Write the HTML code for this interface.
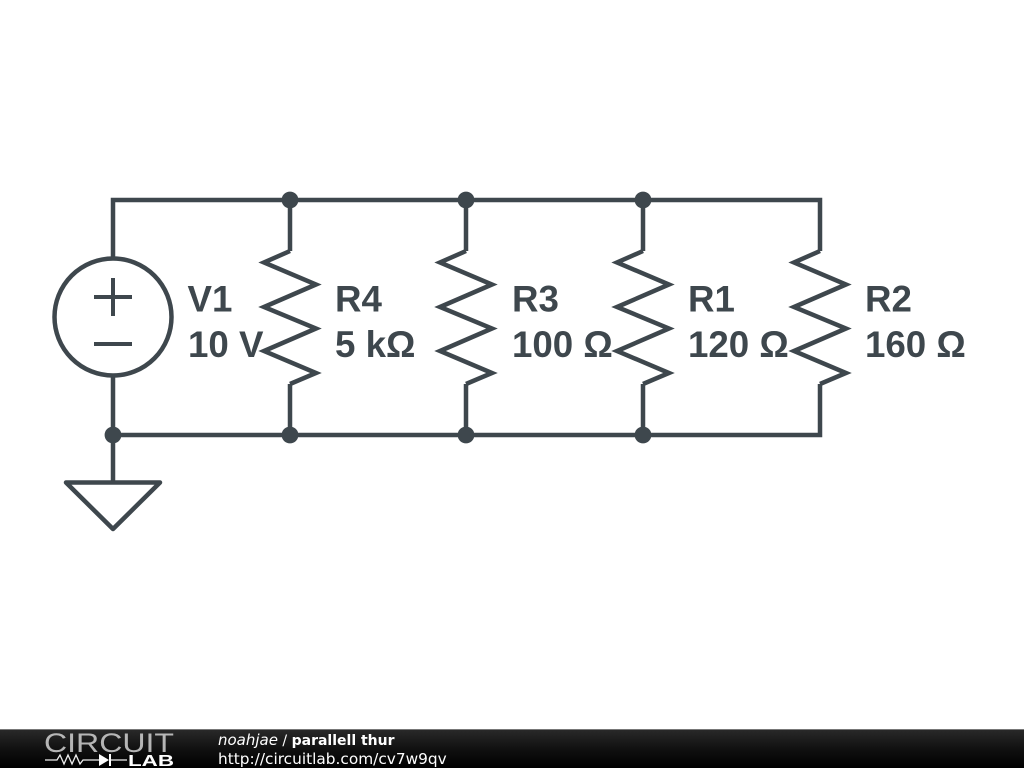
<!DOCTYPE html>
<html><head><meta charset="utf-8"><style>
html,body{margin:0;padding:0;background:#fff;width:1024px;height:768px;overflow:hidden}
svg{display:block}
</style></head><body>
<svg width="1024" height="768" viewBox="0 0 1024 768" xmlns="http://www.w3.org/2000/svg">
<defs>
<linearGradient id="bar" x1="0" y1="0" x2="0" y2="1"><stop offset="0" stop-color="#2a2a2a"/><stop offset="0.5" stop-color="#111"/><stop offset="1" stop-color="#000"/></linearGradient>
<path id="res" d="M0 251L-26 262.500 26 284.500-26 307 26 328.500-26 351 26 373 0 384"/>
</defs>
<g fill="none" stroke="#3e474d" stroke-width="4.500" stroke-linejoin="miter">
<path d="M113 257V200H820V251M113 377V435H820V384M113 435V482M290 200V251M290 384V435M466 200V251M466 384V435M643 200V251M643 384V435"/>
<use href="#res" x="290"/><use href="#res" x="466"/><use href="#res" x="643"/><use href="#res" x="820"/>
<circle cx="113" cy="317" r="58.500"/>
<path d="M94 297H132M113 278V316M94 344H132" stroke-width="4"/>
<path d="M66 482.500H160L113 529Z" stroke-linejoin="round"/>
</g>
<g fill="#3e474d">
<circle cx="290" cy="200" r="8.400"/><circle cx="466" cy="200" r="8.400"/><circle cx="643" cy="200" r="8.400"/>
<circle cx="113" cy="435" r="8.400"/><circle cx="290" cy="435" r="8.400"/><circle cx="466" cy="435" r="8.400"/><circle cx="643" cy="435" r="8.400"/>
</g>
<g fill="#3e474d" font-family="'Liberation Sans',sans-serif" font-weight="bold" font-size="36.700">
<text x="187.500" y="311.500">V1</text><text x="188" y="357">10 V</text>
<text x="335" y="311.500">R4</text><text x="335" y="357">5 kΩ</text>
<text x="512" y="311.500">R3</text><text x="512" y="357">100 Ω</text>
<text x="688" y="311.500">R1</text><text x="688" y="357">120 Ω</text>
<text x="865" y="311.500">R2</text><text x="865" y="357">160 Ω</text>
</g>
<rect x="0" y="729" width="1024" height="39" fill="url(#bar)"/>
<rect x="0" y="729" width="1024" height="1" fill="#777"/>
<text x="44" y="752" fill="#ddd" font-family="'Liberation Sans',sans-serif" font-size="27" textLength="130" lengthAdjust="spacingAndGlyphs" opacity="0.8">CIRCUIT</text>
<text x="128" y="766" fill="#fff" font-family="'Liberation Sans',sans-serif" font-size="16" font-weight="bold" textLength="46" lengthAdjust="spacingAndGlyphs">LAB</text>
<path d="M45 760H57L60 755 64 764 68 755 72 764 76 755 80 764 83 760H99M110 760H127" fill="none" stroke="#eee" stroke-width="1.300"/>
<path d="M99 754V766L109 760Z" fill="#fff"/><path d="M110 754V766" stroke="#fff" stroke-width="2"/>
<text x="218" y="745" fill="#fff" font-family="'DejaVu Sans',sans-serif" font-size="14"><tspan font-style="italic" font-size="15">noahjae</tspan> / <tspan font-weight="bold">parallell thur</tspan></text>
<text x="218" y="764" fill="#fff" font-family="'DejaVu Sans',sans-serif" font-size="15.350">http://circuitlab.com/cv7w9qv</text>
</svg>
</body></html>
